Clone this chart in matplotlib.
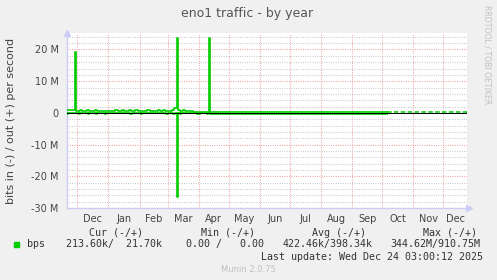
import matplotlib
matplotlib.use("Agg")
import matplotlib.pyplot as plt
import matplotlib.dates as mdates
from matplotlib.ticker import FuncFormatter, MultipleLocator, FixedLocator, NullFormatter
from matplotlib.patches import Rectangle
import numpy as np
import pandas as pd

# out (+) traffic, Mbit/s, step values starting at each date
out_dates = ['2024-11-19', '2024-11-29', '2024-11-30', '2024-12-04', '2024-12-06',
             '2024-12-11', '2024-12-13', '2024-12-19', '2024-12-21', '2025-01-08',
             '2025-01-11', '2025-01-15', '2025-01-17', '2025-01-22', '2025-01-24',
             '2025-01-27', '2025-01-30', '2025-02-08', '2025-02-11', '2025-02-19',
             '2025-02-21', '2025-02-24', '2025-02-26', '2025-03-05', '2025-03-07',
             '2025-03-10', '2025-03-11', '2025-03-13', '2025-03-16', '2025-03-18',
             '2025-03-26', '2025-04-11', '2025-04-12', '2025-10-06']
out_mbps = [0.95, 19.2, 0.6, 0.95, 0.6,
            0.95, 0.6, 0.95, 0.6, 0.95,
            0.6, 0.9, 0.6, 0.95, 0.6,
            0.95, 0.6, 0.95, 0.6, 0.95,
            0.6, 0.95, 0.6, 1.0, 1.4,
            23.7, 0.9, 0.6, 0.9, 0.6,
            0.2, 23.5, 0.25, 0.25]

# in (-) traffic, Mbit/s (drawn negative)
in_dates = ['2024-11-19', '2024-11-21', '2024-11-22', '2024-12-03', '2024-12-04',
            '2024-12-12', '2024-12-13', '2024-12-20', '2024-12-21', '2024-12-29',
            '2024-12-30', '2025-01-23', '2025-01-25', '2025-02-02', '2025-02-03',
            '2025-02-27', '2025-03-01', '2025-03-06', '2025-03-08', '2025-03-10',
            '2025-03-11', '2025-03-13', '2025-03-14', '2025-03-30', '2025-04-02',
            '2025-04-09', '2025-04-10', '2025-04-12', '2025-10-06']
in_mbps = [0.0, -0.35, 0.0, -0.35, 0.0,
           -0.35, 0.0, -0.35, 0.0, -0.3,
           0.0, -0.35, 0.0, -0.35, 0.0,
           -0.35, 0.0, -0.4, 0.0, -26.4,
           0.0, -0.35, 0.0, -0.35, 0.0,
           -0.35, 0.0, -0.5, -0.5]

# patchy data at the end of the period
tail_dates = ['2025-10-06', '2025-12-25']
tail_mbps = [0.3, 0.3]

legend_head = ["Cur (-/+)", "Min (-/+)", "Avg (-/+)", "Max (-/+)"]
legend_vals = ["213.60k/  21.70k", "0.00 /   0.00", "422.46k/398.34k", "344.62M/910.75M"]

W, H = 497, 280
fig = plt.figure(figsize=(W / 100, H / 100), dpi=100, facecolor='#f0f0f0')
ax = fig.add_axes([67 / W, 1 - 208 / H, 400 / W, 175 / H])
ax.set_facecolor('white')

green = '#00cc00'
ax.plot(pd.to_datetime(out_dates), np.array(out_mbps) * 1e6, drawstyle='steps-post',
        color=green, lw=1.2, zorder=3)
ax.plot(pd.to_datetime(in_dates), np.array(in_mbps) * 1e6, drawstyle='steps-post',
        color=green, lw=1.2, zorder=3)
ax.plot(pd.to_datetime(tail_dates), np.array(tail_mbps) * 1e6, color=green, lw=1.1,
        linestyle=(0, (3, 1.5)), zorder=3)
ax.axhline(0, color='black', lw=0.7, zorder=4)

xmin = pd.Timestamp('2024-11-20 16:00')
xmax = pd.Timestamp('2025-12-24 16:00')
ax.set_xlim(xmin, xmax)
ax.set_ylim(-30e6, 25.2e6)

# month grid lines, labels centred in each month
month_starts = pd.date_range('2024-12-01', '2025-12-01', freq='MS')
mids = []
for i, m in enumerate(month_starts):
    end = month_starts[i + 1] if i + 1 < len(month_starts) else xmax
    mids.append(m + (end - m) / 2)
ax.xaxis.set_major_locator(FixedLocator(mdates.date2num(month_starts)))
ax.xaxis.set_major_formatter(NullFormatter())
ax.xaxis.set_minor_locator(FixedLocator(mdates.date2num(mids)))
ax.xaxis.set_minor_formatter(mdates.DateFormatter('%b'))

ax.yaxis.set_major_locator(MultipleLocator(10e6))
ax.yaxis.set_minor_locator(MultipleLocator(2e6))
ax.yaxis.set_major_formatter(FuncFormatter(lambda v, p: '0' if abs(v) < 1 else f'{v / 1e6:.0f} M'))

dot = (0, (0.7, 1.4))
ax.grid(True, which='major', color='#f08c8c', lw=0.8, linestyle=dot, zorder=1)
ax.grid(True, which='minor', axis='y', color='#bdbdbd', lw=0.8, linestyle=dot, zorder=1)
ax.set_axisbelow(True)

ax.tick_params(axis='both', which='both', length=0, labelsize=7, colors='#444444')
ax.tick_params(axis='x', which='minor', pad=4)
ax.tick_params(axis='y', which='major', pad=6)

for s in ['top', 'right']:
    ax.spines[s].set_visible(False)
for s in ['left', 'bottom']:
    ax.spines[s].set_color('#ccccf4')
    ax.spines[s].set_linewidth(1)

# axis arrows
ax.plot([0], [1.0], marker='^', color='#ccccf4', markersize=4, transform=ax.transAxes,
        clip_on=False)
ax.plot([1.005], [0], marker='>', color='#ccccf4', markersize=4, transform=ax.transAxes,
        clip_on=False)

ax.set_ylabel('bits in (-) / out (+) per second', fontsize=8, color='#444444', labelpad=11)
fig.text(247.5 / W, 1 - 14 / H, 'eno1 traffic - by year', ha='center', va='center',
         fontsize=9, color='#555555')
fig.text(487 / W, 1 - 5 / H, 'RRDTOOL / TOBI OETIKER', rotation=270, ha='center', va='top',
         fontsize=5.6, color='#c0c0c0')

mono = dict(family='DejaVu Sans Mono', fontsize=7.2, color='#333333', va='center')
for x, t in zip([89.3, 200.7, 311.7, 422.7], legend_head):
    fig.text(x / W, 1 - 232.7 / H, t, **mono)
fig.patches.append(Rectangle((14 / W, 1 - 247 / H), 5 / W, 5 / H, transform=fig.transFigure,
                             color=green))
fig.text(26.7 / W, 1 - 244.3 / H, 'bps', **mono)
for x, t in zip([66, 186, 282.7, 390.7], legend_vals):
    fig.text(x / W, 1 - 244.3 / H, t, **mono)
fig.text(482.7 / W, 1 - 256.7 / H, 'Last update: Wed Dec 24 03:00:12 2025', ha='right', **mono)
fig.text(248 / W, 1 - 269 / H, 'Munin 2.0.75', ha='center', va='center', fontsize=6,
         color='#c0c0c0')

fig.savefig('out.png', dpi=100, facecolor=fig.get_facecolor())
